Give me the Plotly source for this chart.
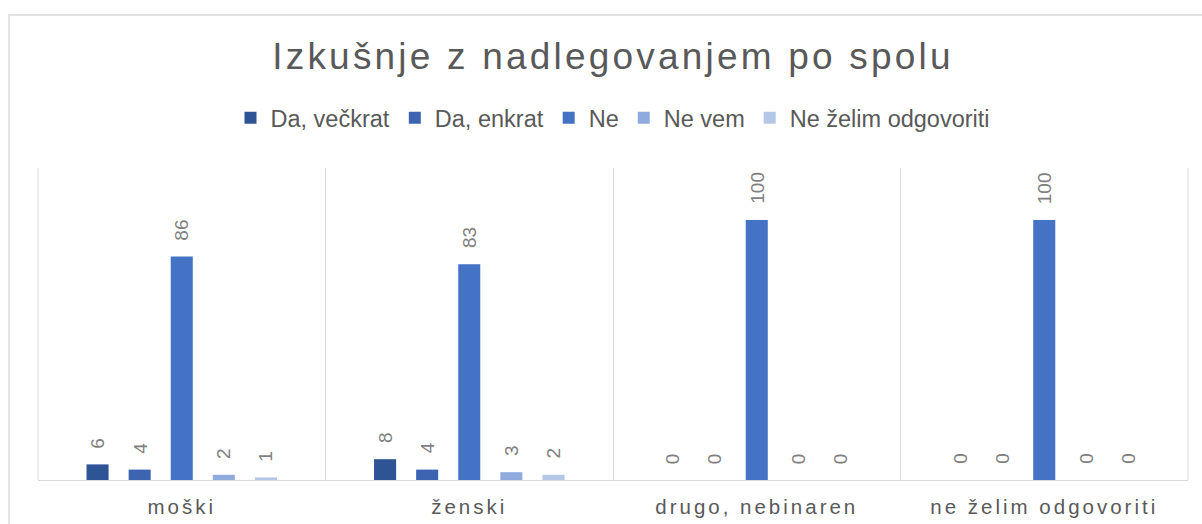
import plotly.graph_objects as go

categories = ["moški", "ženski", "drugo, nebinaren", "ne želim odgovoriti"]
series_names = ["Da, večkrat", "Da, enkrat", "Ne", "Ne vem", "Ne želim odgovoriti"]
da_veckrat = [6, 8, 0, 0]
da_enkrat = [4, 4, 0, 0]
ne = [86, 83, 100, 100]
ne_vem = [2, 3, 0, 0]
ne_zelim = [1, 2, 0, 0]
series_values = [da_veckrat, da_enkrat, ne, ne_vem, ne_zelim]
colors = ["#2F5496", "#3C64B1", "#4472C4", "#8FAADC", "#B4C7E7"]

FONT = "Liberation Sans, Arial, sans-serif"
TXT = "#595959"
GRID = "#D9D9D9"
W, H = 1202, 524

fig = go.Figure()
for name, vals, col in zip(series_names, series_values, colors):
    fig.add_trace(go.Bar(
        x=categories, y=vals, name=name,
        marker=dict(color=col, line=dict(width=0)),
        hoverinfo="x+y+name",
    ))

# data labels (rotated), placed above each bar within its group
slot = 42
n = len(series_names)
annotations = []
for i, vals in enumerate(series_values):
    for cat, v in zip(categories, vals):
        annotations.append(dict(
            x=cat, y=v, xref="x", yref="y", text=str(v), showarrow=False,
            textangle=-90, xanchor="center", yanchor="bottom",
            xshift=(i - (n - 1) / 2) * slot, yshift=14,
            font=dict(family=FONT, size=19, color="#7F7F7F"),
        ))

fig.update_layout(
    width=W, height=H,
    margin=dict(l=38, r=14, t=168, b=44, autoexpand=False),
    paper_bgcolor="white", plot_bgcolor="white",
    barmode="group", bargap=0.268, bargroupgap=0.476,
    title=dict(
        text="Izkušnje z nadlegovanjem po spolu",
        x=0.5, xref="paper", xanchor="center",
        y=1 - 56 / H, yref="container", yanchor="middle",
        font=dict(family=FONT, size=37, color=TXT),
    ),
    legend=dict(
        orientation="h", x=0.5, xanchor="center", xref="paper",
        y=1 - 118 / H, yref="container", yanchor="middle",
        font=dict(family=FONT, size=23.5, color=TXT),
        itemclick=False, itemdoubleclick=False,
    ),
    xaxis=dict(
        type="category", tickson="boundaries", showgrid=True, gridcolor=GRID, gridwidth=1,
        showline=True, linecolor=GRID, linewidth=1, mirror=False,
        ticks="", ticklabelstandoff=8, automargin=False,
        tickfont=dict(family=FONT, size=20.5, color=TXT),
        fixedrange=True,
    ),
    yaxis=dict(
        range=[0, 120], showgrid=False, zeroline=False, showline=False,
        showticklabels=False, ticks="", fixedrange=True, automargin=False,
    ),
    annotations=annotations,
    shapes=[dict(
        type="rect", xref="paper", yref="paper",
        x0=(9 - 38) / 1150, x1=1.05, y0=-0.3, y1=(480 - 15) / 312,
        line=dict(color=GRID, width=1.3), fillcolor="rgba(0,0,0,0)", layer="below",
    )],
    showlegend=True,
)

# vertical separators at the left/right edges of the plot area
fig.add_shape(type="line", xref="paper", yref="paper", x0=0, x1=0, y0=0, y1=1,
              line=dict(color=GRID, width=1))
fig.add_shape(type="line", xref="paper", yref="paper", x0=1, x1=1, y0=0, y1=1,
              line=dict(color=GRID, width=1))

post = """
document.body.style.margin='0';
function sp(){
  document.querySelectorAll('.gtitle').forEach(function(e){e.style.letterSpacing='3.2px';});
  document.querySelectorAll('.xtick text').forEach(function(e){e.style.letterSpacing='3px';});
}
sp();
"""
fig.write_html("out.html", post_script=post, config={"displayModeBar": False})
